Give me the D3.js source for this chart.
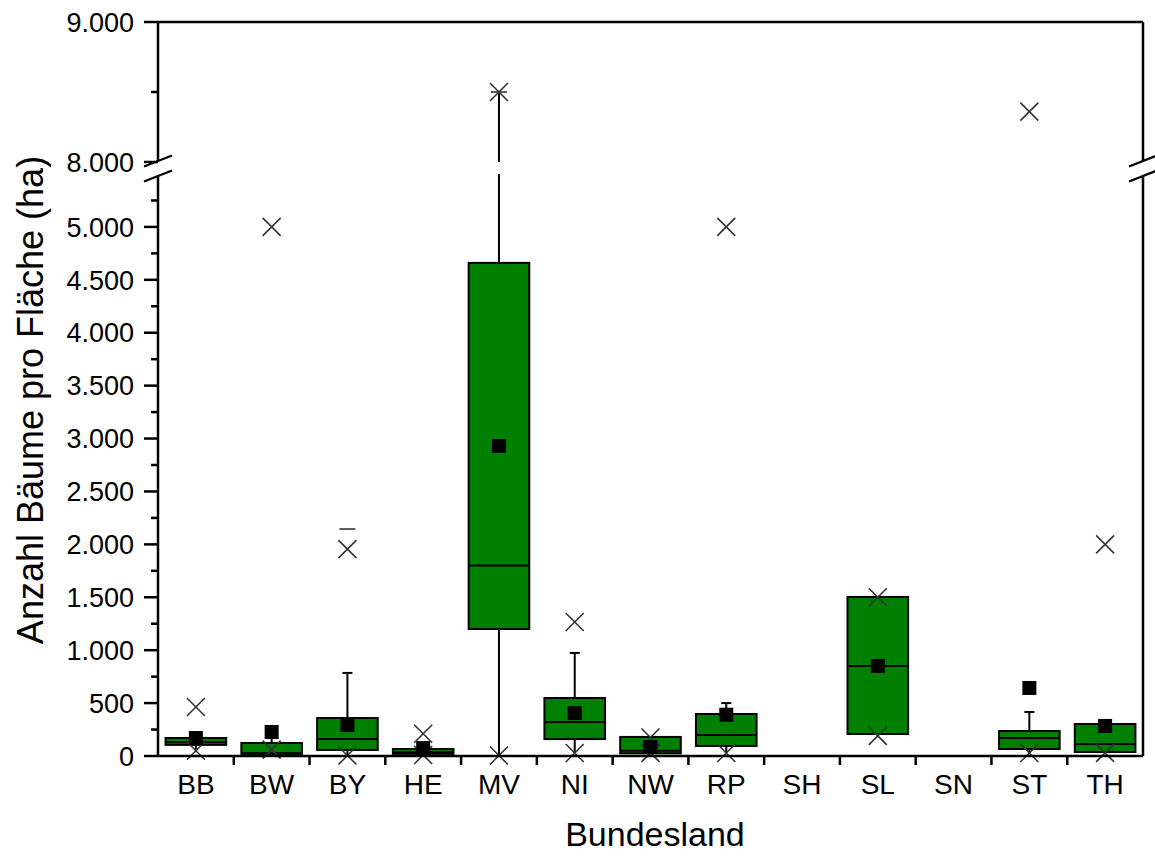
<!DOCTYPE html>
<html>
<head>
<meta charset="utf-8">
<script src="https://cdn.jsdelivr.net/npm/d3@7"></script>
<style>
  body { margin: 0; background: #fff; }
  svg { font-family: "Liberation Sans", Arial, sans-serif; }
</style>
</head>
<body>
<svg width="1155" height="857"></svg>
<script>
// values (Bäume pro ha)
var categories = ["BB","BW","BY","HE","MV","NI","NW","RP","SH","SL","SN","ST","TH"];
var q1         = [105,  20,   57,  20, 1200, 160,  25,   95, null,  208, null,   66,   38];
var median     = [130,  25,  160,  35, 1800, 321,  50,  199, null,  851, null,  170,  113];
var q3         = [170, 123,  359,  66, 4660, 548, 180,  397, null, 1503, null,  236,  302];
var whiskerLow = [ 50,  20,    5,  10,    0,  28,  25,   28, null,  208, null,   28,   30];
var whiskerHi  = [170, 200,  785,  66, 8500, 974, 180,  500, null, 1503, null,  416,  320];
var means      = [170, 227,  293,  75, 2930, 406,  85,  390, null,  851, null,  643,  284];
var upperX     = [463, 5000, 1955, 210, 8500, 1266, 175, 5000, null, 1500, null, 8360, 2000];
var lowerX     = [ 50,  60,    5,  10,    5,  28,  30,   28, null,  190, null,   28,   30];
var maxDash    = [null, null, 2145, null, 8500, null, null, null, null, null, null, null, null];

var lowTicks = d3.range(0, 5001, 500),
    lowMinor = d3.range(250, 5251, 500),
    highTicks = [8000, 9000],
    highMinor = [8500];

var svg = d3.select("svg"),
    left = 158, right = 1143, topY = 22, bottom = 756,
    breakLow = 5500, breakHigh = 8000;

var yLow = d3.scaleLinear().domain([0, breakLow]).range([bottom, 174]),
    yHigh = d3.scaleLinear().domain([breakHigh, 9000]).range([162, topY]);

function y(v) { return v <= breakLow ? yLow(v) : yHigh(v); }

var x = d3.scaleBand().domain(categories).range([left, right]).padding(0);
var boxW = x.bandwidth() * 0.8;
function cx(c) { return x(c) + x.bandwidth() / 2; }

var de = d3.formatLocale({decimal: ",", thousands: ".", grouping: [3], currency: ["", "€"]});
var fmt = de.format(",d");

var rows = categories.map(function(c, i) {
  return {cat: c, q1: q1[i], med: median[i], q3: q3[i], wl: whiskerLow[i], wh: whiskerHi[i],
          mean: means[i], ux: upperX[i], lx: lowerX[i], dash: maxDash[i]};
}).filter(function(d) { return d.q1 != null; });

var g = svg.append("g");

// whiskers (split over the break)
function vline(sel, xx, a, b) {
  var lo = Math.min(a, b), hi = Math.max(a, b);
  if (hi <= breakLow || lo >= breakHigh) {
    sel.append("line").attr("x1", xx).attr("x2", xx).attr("y1", y(lo)).attr("y2", y(hi));
  } else {
    sel.append("line").attr("x1", xx).attr("x2", xx).attr("y1", y(lo)).attr("y2", yLow(breakLow));
    sel.append("line").attr("x1", xx).attr("x2", xx).attr("y1", yHigh(breakHigh)).attr("y2", y(hi));
  }
}

var wg = g.append("g").attr("stroke", "#000").attr("stroke-width", 2);
rows.forEach(function(d) {
  var xx = cx(d.cat);
  if (d.wh > d.q3) {
    vline(wg, xx, d.q3, d.wh);
    if (d.wh < breakLow) wg.append("line").attr("x1", xx - 5).attr("x2", xx + 5).attr("y1", y(d.wh)).attr("y2", y(d.wh));
  }
  if (d.wl < d.q1) {
    vline(wg, xx, d.wl, d.q1);
  }
});

// boxes
g.append("g").selectAll("rect").data(rows).join("rect")
  .attr("x", function(d) { return cx(d.cat) - boxW / 2; })
  .attr("width", boxW)
  .attr("y", function(d) { return y(d.q3); })
  .attr("height", function(d) { return y(d.q1) - y(d.q3); })
  .attr("fill", "#008000")
  .attr("stroke", "#000")
  .attr("stroke-width", 2);

g.append("g").selectAll("line").data(rows).join("line")
  .attr("x1", function(d) { return cx(d.cat) - boxW / 2; })
  .attr("x2", function(d) { return cx(d.cat) + boxW / 2; })
  .attr("y1", function(d) { return y(d.med); })
  .attr("y2", function(d) { return y(d.med); })
  .attr("stroke", "#000")
  .attr("stroke-width", 2);

// x markers (percentiles)
function cross(sel, xx, yy) {
  var s = 9;
  sel.append("path")
    .attr("d", "M" + (xx - s) + "," + (yy - s) + "L" + (xx + s) + "," + (yy + s) +
               "M" + (xx - s) + "," + (yy + s) + "L" + (xx + s) + "," + (yy - s))
    .attr("stroke", "#333").attr("stroke-width", 1.6).attr("fill", "none");
}
var mg = g.append("g");
rows.forEach(function(d) {
  cross(mg, cx(d.cat), y(d.ux));
  cross(mg, cx(d.cat), y(d.lx));
  if (d.dash != null) {
    mg.append("line").attr("x1", cx(d.cat) - 8).attr("x2", cx(d.cat) + 8)
      .attr("y1", y(d.dash)).attr("y2", y(d.dash))
      .attr("stroke", "#333").attr("stroke-width", 1.6);
  }
});

// means
g.append("g").selectAll("rect").data(rows).join("rect")
  .attr("x", function(d) { return cx(d.cat) - 7; })
  .attr("y", function(d) { return y(d.mean) - 7; })
  .attr("width", 14).attr("height", 14)
  .attr("fill", "#000");

// frame
var ax = svg.append("g").attr("stroke", "#000").attr("stroke-width", 2.5).attr("fill", "none");
ax.append("line").attr("x1", left).attr("x2", right).attr("y1", bottom).attr("y2", bottom);
ax.append("line").attr("x1", left).attr("x2", right).attr("y1", topY).attr("y2", topY);
[left, right].forEach(function(xx) {
  ax.append("line").attr("x1", xx).attr("x2", xx).attr("y1", bottom).attr("y2", yLow(breakLow) + 2);
  ax.append("line").attr("x1", xx).attr("x2", xx).attr("y1", yHigh(breakHigh) - 1).attr("y2", topY);
});

// break marks
[left, right].forEach(function(xx) {
  [yLow(breakLow) + 2, yHigh(breakHigh) - 1].forEach(function(yy) {
    ax.append("line").attr("x1", xx - 14).attr("x2", xx + 14)
      .attr("y1", yy + 5.5).attr("y2", yy - 5.5).attr("stroke-width", 2.2);
  });
});

// y ticks
function yTicks(sc, major, minor) {
  ax.selectAll(null).data(major).enter().append("line")
    .attr("x1", left - 14).attr("x2", left).attr("y1", sc).attr("y2", sc);
  ax.selectAll(null).data(minor).enter().append("line")
    .attr("x1", left - 7).attr("x2", left).attr("y1", sc).attr("y2", sc);
  svg.append("g").selectAll(null).data(major).enter().append("text")
    .attr("x", left - 24).attr("y", sc).attr("dy", "0.36em")
    .attr("text-anchor", "end").attr("font-size", 27).attr("fill", "#000")
    .text(fmt);
}
yTicks(yLow, lowTicks, lowMinor);
yTicks(yHigh, highTicks, highMinor);

// x ticks at band edges
ax.selectAll(null).data(categories.slice(1)).enter().append("line")
  .attr("x1", function(c) { return x(c); }).attr("x2", function(c) { return x(c); })
  .attr("y1", bottom).attr("y2", bottom + 9);

svg.append("g").selectAll("text").data(categories).join("text")
  .attr("x", cx).attr("y", 794)
  .attr("text-anchor", "middle").attr("font-size", 28).attr("fill", "#000")
  .text(function(c) { return c; });

// axis titles
svg.append("text")
  .attr("x", 655).attr("y", 846)
  .attr("text-anchor", "middle").attr("font-size", 34)
  .text("Bundesland");

svg.append("text")
  .attr("transform", "translate(43,400) rotate(-90)")
  .attr("text-anchor", "middle").attr("font-size", 36)
  .text("Anzahl Bäume pro Fläche (ha)");
</script>
</body>
</html>
